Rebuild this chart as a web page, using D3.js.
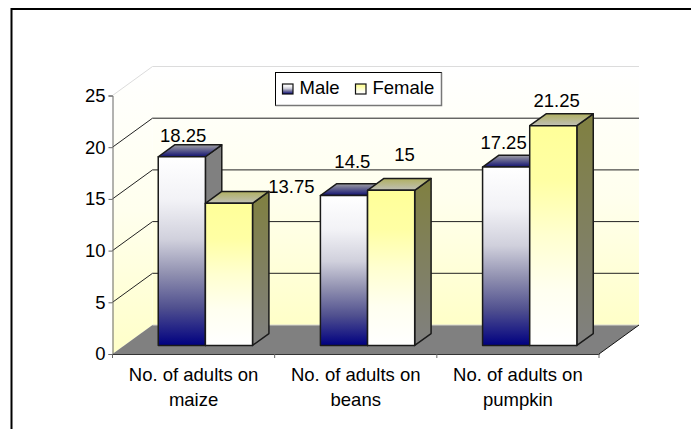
<!DOCTYPE html>
<html>
<head>
    <meta charset="utf-8">
    <title>No. of adults</title>
    <script src="https://d3js.org/d3.v7.min.js"></script>
    <style>
        html, body { margin: 0; padding: 0; background: #fff; }
        svg { display: block; }
        text { font-family: "Liberation Sans", Arial, sans-serif; font-size: 18.5px; fill: #000; }
    </style>
</head>
<body>
<svg width="691" height="429"></svg>
<script>
    // data
    var categories = ["maize", "beans", "pumpkin"];
    var categoryLines = [
        ["No. of adults on", "maize"],
        ["No. of adults on", "beans"],
        ["No. of adults on", "pumpkin"]
    ];
    var seriesNames = ["Male", "Female"];
    var maleValues = [18.25, 14.5, 17.25];
    var femaleValues = [13.75, 15, 21.25];
    var yTicks = [0, 5, 10, 15, 20, 25];

    // value labels are nudged by hand, same as in the original chart
    var maleLabelNudge = [[-15, -3], [-8, -16], [-19, -6]];
    var femaleLabelNudge = [[46, 2], [-3, -17], [-13, -7]];

    var svg = d3.select("svg");
    var defs = svg.append("defs");

    function gradient(id, stops) {
        var g = defs.append("linearGradient").attr("id", id)
            .attr("x1", 0).attr("y1", 0).attr("x2", 0).attr("y2", 1);
        stops.forEach(function(s) {
            g.append("stop").attr("offset", s[0]).attr("stop-color", s[1]);
        });
    }
    gradient("wall", [[0, "#ffffff"], [0.5, "#ffffee"], [1, "#ffffc8"]]);
    gradient("maleFront", [[0, "#ffffff"], [0.23, "#f2f2f6"], [0.44, "#d0d0dc"], [0.62, "#9090b0"], [0.8, "#50508f"], [1, "#000080"]]);
    gradient("maleTop", [[0, "#a0a0a4"], [1, "#101070"]]);
    gradient("femaleFront", [[0, "#ffff99"], [0.25, "#ffffa4"], [0.5, "#ffffd0"], [0.75, "#fffff0"], [1, "#ffffff"]]);
    gradient("femaleTop", [[0, "#b0b060"], [1, "#c0c0b8"]]);
    gradient("femaleSide", [[0, "#808040"], [1, "#808080"]]);

    // scales
    var x = d3.scaleBand().domain(categories).range([112.5, 599]);
    var y = d3.scaleLinear().domain([0, 25]).range([354, 95.5]);
    var inner = d3.scaleBand().domain(seriesNames).range([0, x.bandwidth()]).paddingOuter(0.72).paddingInner(0);

    // oblique offset of the depth axis: d = 0 front, d = 1 back wall
    var depthX = 40, depthY = -29;
    function pt(px, py, d) { return [px + depthX * d, py + depthY * d]; }
    function poly(points) { return "M" + points.map(function(p) { return p.join(","); }).join("L") + "Z"; }

    var x0 = x.range()[0], x1 = x.range()[1], yBase = y(0), yTop = y(25);

    // chart frame, only top and left show in the crop
    svg.append("path").attr("d", "M11.5,429V9H691")
        .attr("fill", "none").attr("stroke", "#000").attr("stroke-width", 2);

    // walls and floor
    svg.append("path")
        .attr("d", poly([pt(x0, yTop, 1), pt(x1, yTop, 1), pt(x1, yBase, 1), pt(x0, yBase, 1)]))
        .attr("fill", "url(#wall)");
    svg.append("path")
        .attr("d", poly([pt(x0, yTop, 0), pt(x0, yTop, 1), pt(x0, yBase, 1), pt(x0, yBase, 0)]))
        .attr("fill", "url(#wall)");
    svg.append("path")
        .attr("d", poly([pt(x0, yBase, 0), pt(x0, yBase, 1), pt(x1, yBase, 1), pt(x1, yBase, 0)]))
        .attr("fill", "#808080");

    // gridlines along left wall and back wall
    var gridLine = d3.line();
    yTicks.slice(1).forEach(function(t) {
        var top = t === 25;
        svg.append("path")
            .attr("d", gridLine([pt(x0, y(t), 0), pt(x0, y(t), 1), pt(x1, y(t), 1)]))
            .attr("fill", "none")
            .attr("stroke", top ? "#dcdcdc" : "#222")
            .attr("stroke-width", 1);
    });
    svg.append("path")
        .attr("d", gridLine([pt(x0, yBase, 1), pt(x1, yBase, 1)]))
        .attr("fill", "none").attr("stroke", "#d8d8d0").attr("stroke-width", 1);
    svg.append("path")
        .attr("d", gridLine([pt(x1, yBase, 0), pt(x1, yBase, 1)]))
        .attr("fill", "none").attr("stroke", "#111").attr("stroke-width", 1);

    // axes
    var yAxis = d3.axisLeft(y).tickValues(yTicks).tickSize(4).tickPadding(3);
    var gy = svg.append("g").attr("transform", "translate(" + x0 + ",0)").call(yAxis);
    var xAxis = d3.axisBottom(x).tickValues([]).tickSize(0);
    var gx = svg.append("g").attr("transform", "translate(0," + yBase + ")").call(xAxis);
    gy.select(".domain").attr("stroke", "#666");
    gy.selectAll("line").attr("stroke", "#666");
    gx.select(".domain").attr("stroke", "#333");
    gy.selectAll("text").style("font-family", '"Liberation Sans", Arial, sans-serif').style("font-size", "18.5px");

    // ticks between categories
    categories.forEach(function(c) {
        svg.append("line")
            .attr("x1", x(c)).attr("x2", x(c))
            .attr("y1", yBase).attr("y2", yBase + 4).attr("stroke", "#666");
    });
    svg.append("line").attr("x1", x1).attr("x2", x1)
        .attr("y1", yBase).attr("y2", yBase + 4).attr("stroke", "#666");

    // category labels
    categories.forEach(function(c, i) {
        categoryLines[i].forEach(function(line, j) {
            svg.append("text")
                .attr("x", x(c) + x.bandwidth() / 2)
                .attr("y", 381 + j * 25)
                .attr("text-anchor", "middle")
                .text(line);
        });
    });

    // 3d bars, sit between d = 0.295 and d = 0.705
    var dFront = 0.295, dBack = 0.705;
    function drawBar(c, name, value, frontFill, topFill, sideFill) {
        var l = x(c) + inner(name), r = l + inner.bandwidth();
        var g = svg.append("g").attr("stroke", "#1a1a1a").attr("stroke-width", 1.5).attr("stroke-linejoin", "round");
        g.append("path")
            .attr("d", poly([pt(r, y(value), dFront), pt(r, y(value), dBack), pt(r, y(0), dBack), pt(r, y(0), dFront)]))
            .attr("fill", sideFill);
        g.append("path")
            .attr("d", poly([pt(l, y(value), dFront), pt(l, y(value), dBack), pt(r, y(value), dBack), pt(r, y(value), dFront)]))
            .attr("fill", topFill);
        g.append("path")
            .attr("d", poly([pt(l, y(value), dFront), pt(r, y(value), dFront), pt(r, y(0), dFront), pt(l, y(0), dFront)]))
            .attr("fill", frontFill);
    }
    categories.forEach(function(c, i) {
        drawBar(c, "Male", maleValues[i], "url(#maleFront)", "url(#maleTop)", "#808080");
        drawBar(c, "Female", femaleValues[i], "url(#femaleFront)", "url(#femaleTop)", "url(#femaleSide)");
    });

    // value labels
    function valueLabel(c, name, value, nudge) {
        var p = pt(x(c) + inner(name) + inner.bandwidth() / 2, y(value), dBack);
        svg.append("text")
            .attr("x", p[0] + nudge[0])
            .attr("y", p[1] + nudge[1])
            .attr("text-anchor", "middle")
            .text(value);
    }
    categories.forEach(function(c, i) {
        valueLabel(c, "Male", maleValues[i], maleLabelNudge[i]);
        valueLabel(c, "Female", femaleValues[i], femaleLabelNudge[i]);
    });

    // legend
    var legend = svg.append("g").attr("transform", "translate(275.5,72.5)");
    legend.append("rect").attr("width", 166).attr("height", 33)
        .attr("fill", "#fff").attr("stroke", "#000");
    legend.append("path").attr("d", "M0,33H166V0").attr("fill", "none").attr("stroke", "#777").attr("stroke-width", 1.5);
    var legendX = [7, 80];
    var legendFill = ["url(#maleFront)", "url(#femaleFront)"];
    seriesNames.forEach(function(name, i) {
        legend.append("rect").attr("x", legendX[i]).attr("y", 11.5).attr("width", 10.5).attr("height", 10)
            .attr("fill", legendFill[i]).attr("stroke", "#111").attr("stroke-width", 1.2);
        legend.append("text").attr("x", legendX[i] + 17).attr("y", 21.5).text(name);
    });
</script>
</body>
</html>
